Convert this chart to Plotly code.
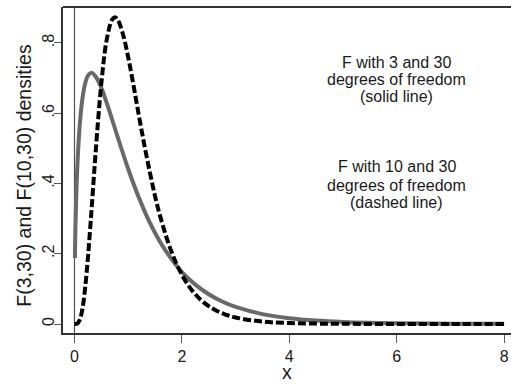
import plotly.graph_objects as go

# F(3,30) density (solid gray line)
x_f3 = [0.008, 0.02, 0.05, 0.1, 0.15, 0.2, 0.25, 0.3125, 0.4, 0.5, 0.6, 0.8, 1.0,
        1.2, 1.4, 1.6, 1.8, 2.0, 2.25, 2.5, 2.75, 3.0, 3.5, 4.0, 4.5, 5.0, 5.5,
        6.0, 7.0, 8.0]
y_f3 = [0.188, 0.291, 0.438, 0.570, 0.644, 0.685, 0.707, 0.715, 0.703, 0.672, 0.629,
        0.534, 0.441, 0.359, 0.289, 0.232, 0.186, 0.148, 0.112, 0.0846, 0.0640,
        0.0485, 0.0281, 0.0165, 0.0098, 0.0059, 0.0036, 0.0022, 0.0009, 0.0004]

# F(10,30) density (black dashed line)
x_f10 = [0.0, 0.05, 0.1, 0.15, 0.2, 0.25, 0.3, 0.35, 0.4, 0.5, 0.6, 0.7, 0.75, 0.8,
         0.9, 1.0, 1.1, 1.2, 1.3, 1.4, 1.5, 1.6, 1.8, 2.0, 2.2, 2.4, 2.6, 2.8,
         3.0, 3.5, 4.0, 4.5, 5.0, 6.0, 7.0, 8.0]
y_f10 = [0.0, 0.0011, 0.0124, 0.0457, 0.105, 0.189, 0.288, 0.395, 0.501, 0.685,
         0.809, 0.866, 0.873, 0.867, 0.826, 0.759, 0.678, 0.592, 0.510, 0.434,
         0.364, 0.304, 0.208, 0.140, 0.0935, 0.0622, 0.0414, 0.0276, 0.0185,
         0.0069, 0.0027, 0.0011, 0.0005, 0.0001, 0.0, 0.0]

y_tickvals = [0, 0.2, 0.4, 0.6, 0.8]
y_ticktext = ["0", ".2", ".4", ".6", ".8"]
x_tickvals = [0, 2, 4, 6, 8]
x_ticktext = ["0", "2", "4", "6", "8"]

note_solid_lines = ["F with 3 and 30", "degrees of freedom", "(solid line)"]
note_solid_y = [0.745, 0.696, 0.648]
note_dashed_lines = ["F with 10 and 30", "degrees of freedom", "(dashed line)"]
note_dashed_y = [0.447, 0.395, 0.346]
note_x = 6.0
y_title = "F(3,30) and F(10,30) densities"
x_title = "x"

FONT = "Liberation Sans, Arial, sans-serif"
TXT = "#1a1a1a"

fig = go.Figure()
fig.add_trace(go.Scatter(x=x_f3, y=y_f3, mode="lines",
                         line=dict(color="rgb(105,105,105)", width=4, shape="spline"),
                         showlegend=False, hoverinfo="skip"))
fig.add_trace(go.Scatter(x=x_f10, y=y_f10, mode="lines",
                         line=dict(color="black", width=4, dash="8px,3px", shape="spline"),
                         showlegend=False, hoverinfo="skip"))

# vertical reference line at x = 0
fig.add_shape(type="line", xref="x", yref="paper", x0=0, x1=0, y0=0, y1=1,
              line=dict(color="rgb(80,80,80)", width=1.2), layer="below")
# top frame line
fig.add_shape(type="line", xref="paper", yref="paper", x0=0, x1=1, y0=1, y1=1,
              line=dict(color="rgb(50,50,50)", width=1.8))

for txt, yy in zip(note_solid_lines, note_solid_y):
    fig.add_annotation(x=note_x, y=yy, xref="x", yref="y", text=txt,
                       showarrow=False, xanchor="center", yanchor="middle",
                       font=dict(family=FONT, size=16, color=TXT))
for txt, yy in zip(note_dashed_lines, note_dashed_y):
    fig.add_annotation(x=note_x, y=yy, xref="x", yref="y", text=txt,
                       showarrow=False, xanchor="center", yanchor="middle",
                       font=dict(family=FONT, size=16, color=TXT))

fig.add_annotation(x=-0.089, y=0.483, xref="paper", yref="paper", text=y_title,
                   textangle=-90, showarrow=False, xanchor="center", yanchor="middle",
                   font=dict(family=FONT, size=19.5, color=TXT))
fig.add_annotation(x=0.5, y=-0.1595, xref="paper", yref="paper", text=x_title,
                   showarrow=False, xanchor="center", yanchor="bottom",
                   font=dict(family=FONT, size=19.5, color=TXT))

fig.update_layout(
    width=511, height=385,
    margin=dict(l=63, r=0, t=7, b=52),
    paper_bgcolor="white", plot_bgcolor="white",
    font=dict(family=FONT, size=16, color=TXT),
    xaxis=dict(range=[-0.214, 8.128], tickvals=x_tickvals, ticktext=x_ticktext,
               showgrid=False, zeroline=False, showline=True, automargin=False,
               linecolor="rgb(50,50,50)", linewidth=1.5,
               ticks="outside", ticklen=8, tickcolor="rgb(90,90,90)"),
    yaxis=dict(range=[-0.0256, 0.902], tickvals=y_tickvals, ticktext=y_ticktext,
               showgrid=False, zeroline=False, showline=True, automargin=False,
               linecolor="rgb(50,50,50)", linewidth=1.5,
               ticks="outside", ticklen=7, tickcolor="rgb(90,90,90)",
               tickangle=-90, ticklabelstandoff=-6),
)

# remove the browser's default 8px page margin so the figure fills the window
fig.write_html("out.html",
               config={"displayModeBar": False},
               post_script="document.body.style.margin='0';"
                           "document.body.style.overflow='hidden';")
